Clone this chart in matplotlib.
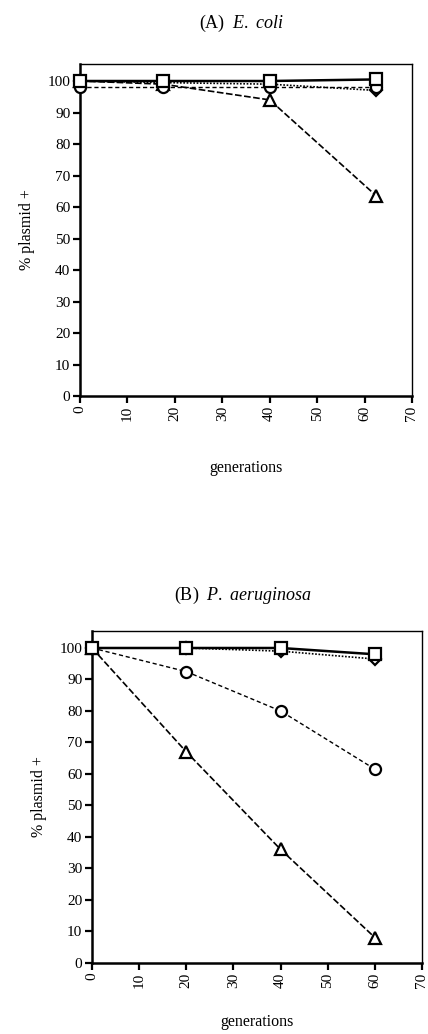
import matplotlib
matplotlib.use("Agg")
import matplotlib.pyplot as plt

plt.rcParams['font.family'] = ['Liberation Serif', 'DejaVu Serif']
plt.rcParams['mathtext.fontset'] = 'custom'
plt.rcParams['mathtext.rm'] = 'Liberation Serif'
plt.rcParams['mathtext.it'] = 'Liberation Serif:italic'

# Panel A: E. coli
gen_a = [0, 17.5, 40, 62.5]
a_square = [100, 100, 100, 100.5]
a_circle = [98, 98, 98, 98]
a_diamond = [100, 99.5, 99, 97]
a_triangle = [100, 99, 94, 63.5]

# Panel B: P. aeruginosa
gen_b = [0, 20, 40, 60]
b_square = [100, 100, 100, 98]
b_diamond = [100, 100, 99, 96.5]
b_circle = [100, 92.5, 80, 61.5]
b_triangle = [100, 67, 36, 8]

xticks = [0, 10, 20, 30, 40, 50, 60, 70]
yticks = [0, 10, 20, 30, 40, 50, 60, 70, 80, 90, 100]

fig = plt.figure(figsize=(4.28, 10.34), dpi=100)

def style(ax, xpad):
    ax.set_xlim(0, 70)
    ax.set_ylim(0, 105.4)
    ax.set_xticks(xticks)
    ax.set_xticklabels([str(t) for t in xticks], rotation=90, fontsize=11)
    ax.set_yticks(yticks)
    ax.set_yticklabels([str(t) for t in yticks], fontsize=11)
    ax.tick_params(direction='out', length=5, width=1.6, top=False, right=False, pad=2)
    for s in ['left', 'bottom']:
        ax.spines[s].set_linewidth(1.8)
    for s in ['top', 'right']:
        ax.spines[s].set_linewidth(1.0)
    ax.set_ylabel('% plasmid +', fontsize=11.5, labelpad=9)
    ax.set_xlabel('generations', fontsize=11.5, labelpad=xpad)

mk = dict(color='black', markerfacecolor='white', markeredgecolor='black', markeredgewidth=1.6, clip_on=False)

axA = fig.add_axes([80/428, (1034-396)/1034, 332/428, 332/1034])
axA.plot(gen_a, a_triangle, linestyle=(0, (4, 1.5)), lw=1.2, marker='^', markersize=8, zorder=3, **mk)
axA.plot(gen_a, a_diamond, linestyle=(0, (1, 1)), lw=1.2, marker='D', markersize=6, zorder=4, **mk)
axA.plot(gen_a, a_circle, linestyle=(0, (3, 2)), lw=1.0, marker='o', markersize=8, zorder=5, **mk)
axA.plot(gen_a, a_square, linestyle='-', lw=1.8, marker='s', markersize=9, zorder=6, **mk)
style(axA, 28)
fig.text(0.565, 1 - 23/1034, r'(A)  $E.\ coli$', ha='center', va='center', fontsize=13)

axB = fig.add_axes([92/428, (1034-962.7)/1034, 330/428, 331.7/1034])
axB.plot(gen_b, b_triangle, linestyle=(0, (4, 1.5)), lw=1.2, marker='^', markersize=8, zorder=3, **mk)
axB.plot(gen_b, b_circle, linestyle=(0, (3, 2)), lw=1.0, marker='o', markersize=8, zorder=4, **mk)
axB.plot(gen_b, b_diamond, linestyle=(0, (1, 1)), lw=1.2, marker='D', markersize=6, zorder=5, **mk)
axB.plot(gen_b, b_square, linestyle='-', lw=1.8, marker='s', markersize=9, zorder=6, **mk)
style(axB, 19)
fig.text(0.568, 1 - 595/1034, r'(B)  $P.\ aeruginosa$', ha='center', va='center', fontsize=13)

fig.savefig('out.png', dpi=100)
